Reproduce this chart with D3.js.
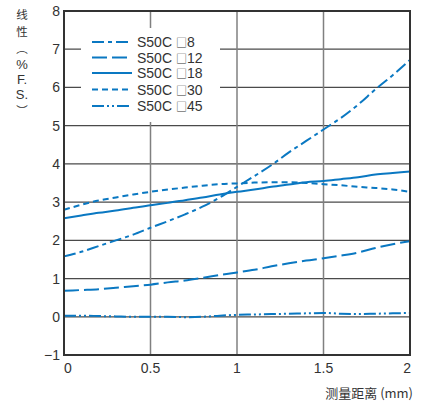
<!DOCTYPE html>
<html><head><meta charset="utf-8">
<script src="https://cdn.jsdelivr.net/npm/d3@7"></script>
<style>body{margin:0;background:#fff}svg{display:block}text{font-family:"Liberation Sans",Arial,sans-serif;fill:#333}</style>
</head><body><svg id="c" width="428" height="406"></svg>
<script>
const xs = [0,0.1,0.2,0.3,0.4,0.5,0.6,0.7,0.8,0.9,1.0,1.1,1.2,1.3,1.4,1.5,1.6,1.7,1.8,1.9,2.0];
const s8  = [1.58,1.7,1.85,2.0,2.15,2.33,2.5,2.68,2.88,3.12,3.4,3.68,3.97,4.3,4.6,4.9,5.2,5.55,5.95,6.32,6.72];
const s12 = [0.68,0.7,0.72,0.76,0.8,0.84,0.9,0.95,1.02,1.09,1.16,1.23,1.32,1.4,1.47,1.53,1.6,1.68,1.8,1.9,1.98];
const s18 = [2.58,2.65,2.72,2.78,2.85,2.92,2.98,3.05,3.12,3.2,3.27,3.33,3.4,3.46,3.52,3.55,3.6,3.65,3.72,3.76,3.8];
const s30 = [2.8,2.93,3.04,3.12,3.2,3.27,3.33,3.38,3.43,3.47,3.49,3.51,3.52,3.52,3.5,3.47,3.44,3.4,3.37,3.33,3.27];
const s45 = [0.03,0.03,0.02,0.01,0,0,0,-0.01,0,0.03,0.05,0.06,0.07,0.08,0.09,0.1,0.08,0.07,0.08,0.09,0.1];
const seriesPrefix = "S50C ";
const seriesSizes = ["8","12","18","30","45"];
const xTicks = [0,0.5,1,1.5,2];
const xTickLabels = ["0","0.5","1","1.5","2"];
const yTicks = [-1,0,1,2,3,4,5,6,7,8];
const yTickLabels = ["−1","0","1","2","3","4","5","6","7","8"];
const yLabelChars = ["线","性","︵","%","F.","S.","︶"];
const xTitle = "测量距离 (mm)";

const dashes = ["12,4,4,4","15,5",null,"6,4","12,3,2,3,2,3"];
const blue = "#0a78c2";
const data = [s8,s12,s18,s30,s45];

const svg = d3.select("#c");
const L=64,R=410,T=11,B=355;
const x = d3.scaleLinear().domain([0,2]).range([L,R]);
const y = d3.scaleLinear().domain([-1,8]).range([B,T]);

// gridlines
svg.append("g").selectAll("line").data(yTicks).join("line")
  .attr("x1",L).attr("x2",R).attr("y1",d=>y(d)).attr("y2",d=>y(d))
  .attr("stroke","#4a4a4a").attr("stroke-width",1.3);
svg.append("g").selectAll("line").data(xTicks.slice(1,-1)).join("line")
  .attr("y1",T).attr("y2",B).attr("x1",d=>x(d)).attr("x2",d=>x(d))
  .attr("stroke","#808080").attr("stroke-width",1.5);

// legend background
svg.append("rect").attr("x",81).attr("y",28).attr("width",139).attr("height",94).attr("fill","#fff");

// series
const line = d3.line().x((d,i)=>x(xs[i])).y(d=>y(d)).curve(d3.curveMonotoneX);
data.forEach((s,k)=>{
  svg.append("path").datum(s).attr("d",line).attr("fill","none")
    .attr("stroke",blue).attr("stroke-width",2)
    .attr("stroke-dasharray",dashes[k]);
});

// frame
svg.append("rect").attr("x",L).attr("y",T).attr("width",R-L).attr("height",B-T)
  .attr("fill","none").attr("stroke","#333").attr("stroke-width",2);

// y tick labels
svg.append("g").selectAll("text").data(yTicks).join("text")
  .attr("x",60).attr("y",d=>y(d)+5).attr("text-anchor","end")
  .attr("font-size",14).text((d,i)=>yTickLabels[i]);
// x tick labels
svg.append("g").selectAll("text").data(xTicks).join("text")
  .attr("x",d=>x(d)).attr("y",373)
  .attr("text-anchor",(d,i)=>i===0?"start":(i===xTicks.length-1?"end":"middle"))
  .attr("dx",(d,i)=>i===0?0:(i===xTicks.length-1?1:0))
  .attr("font-size",14).text((d,i)=>xTickLabels[i]);

// x title
svg.append("text").attr("x",413).attr("y",398).attr("text-anchor","end")
  .attr("font-size",13).style("font-family","'Noto Sans CJK SC',sans-serif").text(xTitle);

// y title (vertical stacked)
const yPos=[19,36,53,68.5,83.5,98.5,115];
const cjk=[true,true,true,false,false,false,true];
svg.append("g").selectAll("text").data(yLabelChars).join("text")
  .attr("x",22).attr("y",(d,i)=>yPos[i]).attr("text-anchor","middle")
  .attr("font-size",(d,i)=>cjk[i]?11.5:13)
  .style("font-family",(d,i)=>cjk[i]?"'Noto Sans CJK SC',sans-serif":"'Liberation Sans',sans-serif")
  .text(d=>d);

// legend
const lg = svg.append("g");
const ly=[42,57.5,73,89.5,106];
seriesSizes.forEach((n,k)=>{
  lg.append("line").attr("x1",92).attr("x2",132).attr("y1",ly[k]).attr("y2",ly[k])
    .attr("stroke",blue).attr("stroke-width",2).attr("stroke-dasharray",dashes[k]);
  const t = lg.append("text").attr("x",137).attr("y",ly[k]+5).attr("font-size",14);
  t.append("tspan").text(seriesPrefix);
  t.append("tspan").style("font-family","'Noto Sans CJK SC',sans-serif").attr("font-size",11).attr("font-weight",300).text("□");
  t.append("tspan").text(n);
});
</script></body></html>
